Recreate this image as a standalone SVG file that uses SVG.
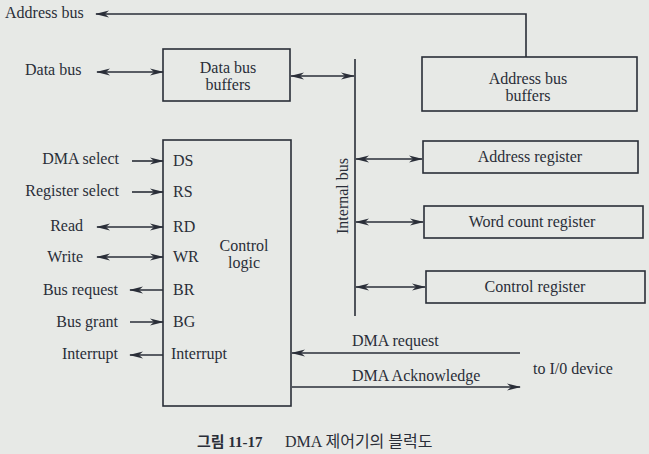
<svg xmlns="http://www.w3.org/2000/svg" width="649" height="454" viewBox="0 0 649 454">
<style>
text{font-family:"Liberation Serif","Times New Roman",serif;font-size:16px;fill:#2a2e38}
.m{text-anchor:middle}
.e{text-anchor:end}
.box{fill:none;stroke:#2a2e38;stroke-width:1.6}
.ln{fill:none;stroke:#2a2e38;stroke-width:1.6}
.a{marker-end:url(#ah)}
.d{marker-start:url(#ah);marker-end:url(#ah)}
.k{font-family:"Liberation Serif","Noto Sans CJK KR",serif}
</style>
<defs>
<marker id="ah" viewBox="0 0 14 8" refX="13" refY="4" markerWidth="14" markerHeight="8" markerUnits="userSpaceOnUse" orient="auto-start-reverse">
<path d="M0,0.5 L14,4 L0,7.5 L4,4 z" fill="#2a2e38"/>
</marker>
</defs>
<rect x="0" y="0" width="649" height="454" fill="#e7e9e6"/>

<g id="connectors">
<polyline class="ln" points="526,57 526,14 96,14" marker-end="url(#ah)"/>
<line class="ln d" x1="97" y1="72" x2="163" y2="72"/>
<line class="ln d" x1="291" y1="76" x2="354" y2="76"/>
<line class="ln" x1="355" y1="59" x2="355" y2="316"/>
<line class="ln d" x1="356" y1="159" x2="422" y2="159"/>
<line class="ln d" x1="356" y1="222" x2="423" y2="222"/>
<line class="ln d" x1="356" y1="287" x2="425" y2="287"/>
<line class="ln a" x1="132" y1="161" x2="163" y2="161"/>
<line class="ln a" x1="132" y1="192" x2="163" y2="192"/>
<line class="ln d" x1="97" y1="227" x2="163" y2="227"/>
<line class="ln d" x1="97" y1="257" x2="163" y2="257"/>
<line class="ln a" x1="163" y1="290" x2="130" y2="290"/>
<line class="ln a" x1="130" y1="322" x2="163" y2="322"/>
<line class="ln a" x1="163" y1="355" x2="130" y2="355"/>
<line class="ln a" x1="520" y1="353" x2="292" y2="353"/>
<line class="ln a" x1="292" y1="387" x2="520" y2="387"/>
</g>

<g id="address-bus-label"><text x="5" y="18">Address bus</text></g>
<g id="data-bus-label"><text x="25" y="75">Data bus</text></g>

<g id="data-bus-buffers">
<rect class="box" x="163" y="49" width="127" height="52"/>
<text class="m" x="228" y="73">Data bus</text>
<text class="m" x="228" y="90">buffers</text>
</g>

<g id="internal-bus">
<text class="m" transform="translate(348,196) rotate(-90)">Internal bus</text>
</g>

<g id="address-bus-buffers">
<rect class="box" x="422" y="57" width="215" height="54"/>
<text class="m" x="528" y="84">Address bus</text>
<text class="m" x="528" y="101">buffers</text>
</g>

<g id="address-register">
<rect class="box" x="423" y="141" width="215" height="32"/>
<text class="m" x="530" y="162">Address register</text>
</g>

<g id="word-count-register">
<rect class="box" x="424" y="206" width="219" height="32"/>
<text class="m" x="532" y="227">Word count register</text>
</g>

<g id="control-register">
<rect class="box" x="426" y="271" width="219" height="32"/>
<text class="m" x="535" y="292">Control register</text>
</g>

<g id="control-logic">
<rect class="box" x="163" y="140" width="128" height="266"/>
<text x="173" y="166">DS</text>
<text x="173" y="197">RS</text>
<text x="173" y="232">RD</text>
<text x="173" y="262">WR</text>
<text x="173" y="295">BR</text>
<text x="173" y="327">BG</text>
<text x="171" y="359">Interrupt</text>
<text class="m" x="244" y="251">Control</text>
<text class="m" x="244" y="268">logic</text>
</g>

<g id="left-signals">
<text class="e" x="119" y="164">DMA select</text>
<text class="e" x="119" y="196">Register select</text>
<text class="e" x="83" y="231">Read</text>
<text class="e" x="83" y="262">Write</text>
<text class="e" x="118" y="295">Bus request</text>
<text class="e" x="118" y="327">Bus grant</text>
<text class="e" x="118" y="359">Interrupt</text>
</g>

<g id="io-signals">
<text x="352" y="346">DMA request</text>
<text x="352" y="381">DMA Acknowledge</text>
<text x="533" y="374">to I/0 device</text>
</g>

<g id="caption">
<text class="k" x="197" y="447" style="font-weight:bold;font-size:15px">그림 11-17</text>
<text class="k" x="285" y="447">DMA 제어기의 블럭도</text>
</g>
</svg>
